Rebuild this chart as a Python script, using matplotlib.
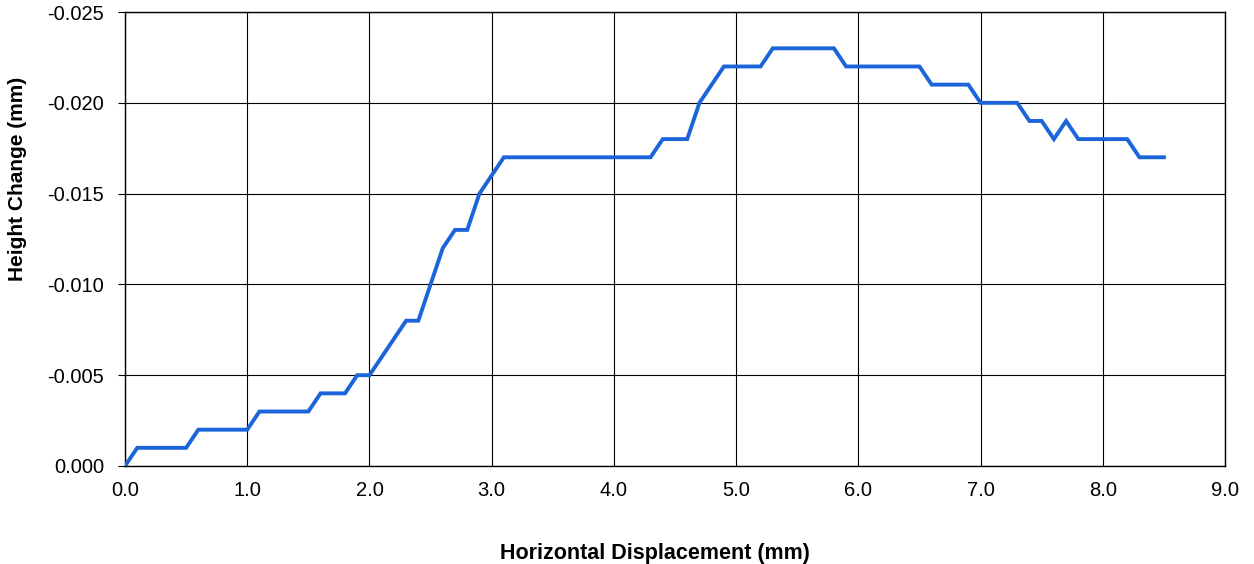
import matplotlib
matplotlib.use("Agg")
import matplotlib.pyplot as plt
from matplotlib.ticker import FuncFormatter, MultipleLocator

plt.rcParams['font.family'] = ['Liberation Sans', 'DejaVu Sans']

displacement = [round(i * 0.1, 1) for i in range(86)]
height_thousandths = [
    0, -1, -1, -1, -1, -1, -2, -2, -2, -2,
    -2, -3, -3, -3, -3, -3, -4, -4, -4, -5,
    -5, -6, -7, -8, -8, -10, -12, -13, -13, -15,
    -16, -17, -17, -17, -17, -17, -17, -17, -17, -17,
    -17, -17, -17, -17, -18, -18, -18, -20, -21, -22,
    -22, -22, -22, -23, -23, -23, -23, -23, -23, -22,
    -22, -22, -22, -22, -22, -22, -21, -21, -21, -21,
    -20, -20, -20, -20, -19, -19, -18, -19, -18, -18,
    -18, -18, -18, -17, -17, -17,
]
height = [v / 1000.0 for v in height_thousandths]

fig = plt.figure(figsize=(12.54, 5.64), dpi=100)
ax = fig.add_axes([125/1254, 1-466/564, 1100/1254, 454/564])

ax.plot(displacement, height, color='#1b64da', linewidth=2.8, zorder=3,
        solid_joinstyle='miter')

def yfmt(v, pos):
    s = f"{v:.3f}"
    return "0.000" if s == "-0.000" else s

ax.set_xlim(0, 9)
ax.set_ylim(0, -0.025)
ax.xaxis.set_major_locator(MultipleLocator(1.0))
ax.yaxis.set_major_locator(MultipleLocator(0.005))
ax.xaxis.set_major_formatter(FuncFormatter(lambda v, p: f"{v:.1f}"))
ax.yaxis.set_major_formatter(FuncFormatter(yfmt))
ax.grid(True, color='black', linewidth=0.8)
ax.set_axisbelow(True)
for s in ax.spines.values():
    s.set_color('black')
    s.set_linewidth(1.0)
ax.tick_params(axis='y', labelsize=14.5, length=5, width=0.8, direction='out', pad=10)
ax.tick_params(axis='x', labelsize=14.5, length=0, pad=11)

ax.set_xlabel('Horizontal Displacement (mm)', fontsize=15.5, fontweight='bold')
ax.xaxis.set_label_coords(0.482, -0.170)
ax.set_ylabel('Height Change (mm)', fontsize=15, fontweight='bold')
ax.yaxis.set_label_coords(-0.089, 0.632)

fig.savefig('out.png', dpi=100)
